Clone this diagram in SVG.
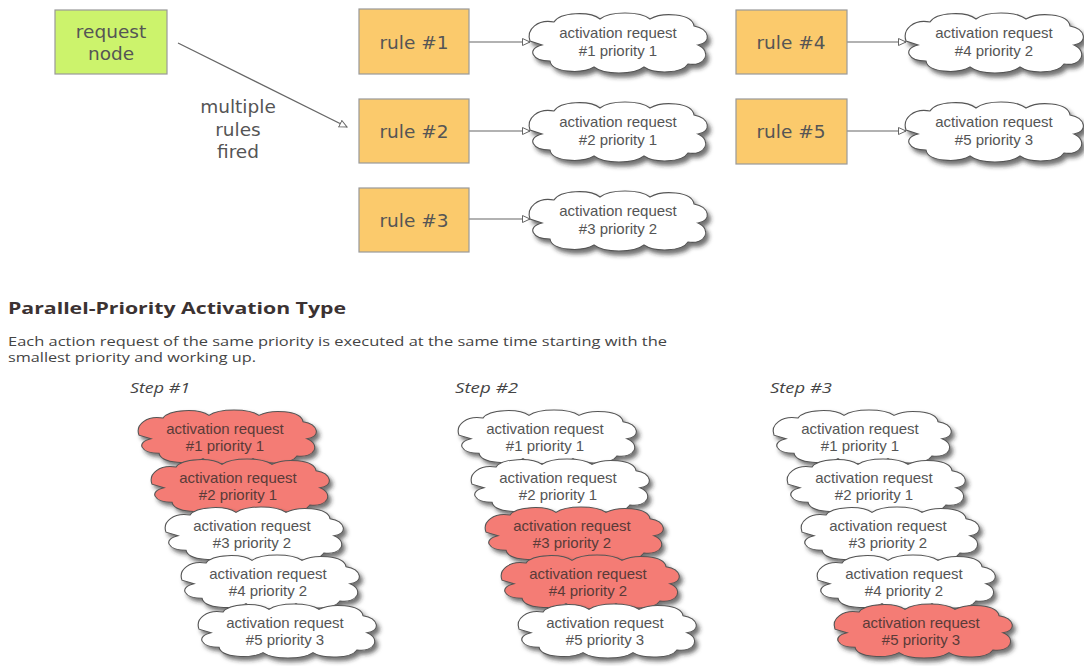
<svg xmlns="http://www.w3.org/2000/svg" xmlns:xlink="http://www.w3.org/1999/xlink" width="1084" height="666" viewBox="0 0 1084 666">
<style>
.box{stroke:#999;stroke-width:1.2}
.req{fill:#CCF36C}
.rule{fill:#FBCA6C}
.lbl{font-family:"DejaVu Sans",Verdana,sans-serif;font-size:18.5px;fill:#555;text-anchor:middle}
.ct{font-family:"Liberation Sans",Arial,sans-serif;font-size:15px;fill:#555;text-anchor:middle}
.red .ct{fill:#5a3b38}
.cw{fill:#fff;stroke:#555;stroke-width:1.1}
.cr{fill:#F47C74;stroke:#555;stroke-width:1.1}
.conn{stroke:#666;stroke-width:1.2;fill:none;marker-end:url(#arr)}
.head{font-family:"Open Sans","DejaVu Sans",sans-serif;font-weight:bold;font-size:16px;fill:#3b3232}
.body{font-family:"Open Sans","DejaVu Sans",sans-serif;font-size:13px;fill:#444}
.step{font-family:"Open Sans","DejaVu Sans",sans-serif;font-style:italic;font-size:14px;fill:#444}
</style>
<defs>
<marker id="arr" markerUnits="userSpaceOnUse" markerWidth="10" markerHeight="10" refX="8" refY="4" orient="auto">
<path d="M0.5,0.5 L8,4 L0.5,7.5 Z" fill="#fff" stroke="#666" stroke-width="1"/>
</marker>
<filter id="sh" x="-20%" y="-30%" width="140%" height="170%">
<feDropShadow dx="3" dy="4" stdDeviation="2.2" flood-color="#222" flood-opacity="0.65"/>
</filter>
<path id="cloud" d="M -88,-2 C -92,-14 -80,-24 -64,-21 C -58,-31 -28,-32 -18,-24 C -8,-32 22,-32 32,-24 C 44,-31 74,-30 76,-17 C 92,-14 94,0 80,2 C 94,8 88,24 70,21 C 64,31 36,31 26,24 C 16,32 -14,32 -24,24 C -36,31 -66,30 -68,18 C -86,18 -92,6 -76,2 L -88,-2 Z"/>
</defs>
<rect width="1084" height="666" fill="#fff"/>

<g id="connectors">
<line class="conn" x1="178" y1="43" x2="347" y2="127"/>
<line class="conn" x1="469" y1="42" x2="530" y2="42"/>
<line class="conn" x1="469" y1="131" x2="530" y2="131"/>
<line class="conn" x1="469" y1="219" x2="530" y2="219"/>
<line class="conn" x1="847" y1="42" x2="906" y2="42"/>
<line class="conn" x1="847" y1="131" x2="906" y2="131"/>
</g>

<g id="request-node">
<rect class="box req" x="55" y="10" width="112" height="64"/>
<text class="lbl" x="111" y="38">request</text>
<text class="lbl" x="111" y="60">node</text>
</g>
<g id="label-fired">
<text class="lbl" x="238" y="113">multiple</text>
<text class="lbl" x="238" y="136">rules</text>
<text class="lbl" x="238" y="158">fired</text>
</g>

<g id="rule1"><rect class="box rule" x="359" y="9" width="110" height="65"/><text class="lbl" x="414" y="49">rule #1</text></g>
<g id="rule2"><rect class="box rule" x="359" y="99" width="110" height="64"/><text class="lbl" x="414" y="138">rule #2</text></g>
<g id="rule3"><rect class="box rule" x="359" y="188" width="110" height="64"/><text class="lbl" x="414" y="227">rule #3</text></g>
<g id="rule4"><rect class="box rule" x="736" y="10" width="111" height="64"/><text class="lbl" x="791" y="49">rule #4</text></g>
<g id="rule5"><rect class="box rule" x="736" y="99" width="111" height="65"/><text class="lbl" x="791" y="138">rule #5</text></g>

<g id="act1"><use href="#cloud" class="cw" filter="url(#sh)" transform="translate(618,43)"/><text class="ct" x="618" y="38">activation request</text><text class="ct" x="618" y="56">#1 priority 1</text></g>
<g id="act2"><use href="#cloud" class="cw" filter="url(#sh)" transform="translate(618,132)"/><text class="ct" x="618" y="127">activation request</text><text class="ct" x="618" y="145">#2 priority 1</text></g>
<g id="act3"><use href="#cloud" class="cw" filter="url(#sh)" transform="translate(618,221)"/><text class="ct" x="618" y="216">activation request</text><text class="ct" x="618" y="234">#3 priority 2</text></g>
<g id="act4"><use href="#cloud" class="cw" filter="url(#sh)" transform="translate(994,43)"/><text class="ct" x="994" y="38">activation request</text><text class="ct" x="994" y="56">#4 priority 2</text></g>
<g id="act5"><use href="#cloud" class="cw" filter="url(#sh)" transform="translate(994,132)"/><text class="ct" x="994" y="127">activation request</text><text class="ct" x="994" y="145">#5 priority 3</text></g>

<g id="heading">
<text class="head" x="8" y="314" textLength="338" lengthAdjust="spacingAndGlyphs">Parallel-Priority Activation Type</text>
<text class="body" x="8" y="346" textLength="659" lengthAdjust="spacingAndGlyphs">Each action request of the same priority is executed at the same time starting with the</text>
<text class="body" x="8" y="362" textLength="248" lengthAdjust="spacingAndGlyphs">smallest priority and working up.</text>
</g>

<g id="step1">
<text class="step" x="130" y="393" textLength="60" lengthAdjust="spacingAndGlyphs">Step #1</text>
<g id="s1c1" class="red"><use href="#cloud" class="cr" filter="url(#sh)" transform="translate(227,437) scale(1,0.9)"/><text class="ct" x="225" y="434">activation request</text><text class="ct" x="225" y="451">#1 priority 1</text></g>
<g id="s1c2" class="red"><use href="#cloud" class="cr" filter="url(#sh)" transform="translate(240,486) scale(1,0.9)"/><text class="ct" x="238" y="483">activation request</text><text class="ct" x="238" y="500">#2 priority 1</text></g>
<g id="s1c3"><use href="#cloud" class="cw" filter="url(#sh)" transform="translate(254,534) scale(1,0.9)"/><text class="ct" x="252" y="531">activation request</text><text class="ct" x="252" y="548">#3 priority 2</text></g>
<g id="s1c4"><use href="#cloud" class="cw" filter="url(#sh)" transform="translate(270,582) scale(1,0.9)"/><text class="ct" x="268" y="579">activation request</text><text class="ct" x="268" y="596">#4 priority 2</text></g>
<g id="s1c5"><use href="#cloud" class="cw" filter="url(#sh)" transform="translate(287,631) scale(1,0.9)"/><text class="ct" x="285" y="628">activation request</text><text class="ct" x="285" y="645">#5 priority 3</text></g>
</g>

<g id="step2">
<text class="step" x="455" y="393" textLength="63" lengthAdjust="spacingAndGlyphs">Step #2</text>
<g id="s2c1"><use href="#cloud" class="cw" filter="url(#sh)" transform="translate(547,437) scale(1,0.9)"/><text class="ct" x="545" y="434">activation request</text><text class="ct" x="545" y="451">#1 priority 1</text></g>
<g id="s2c2"><use href="#cloud" class="cw" filter="url(#sh)" transform="translate(560,486) scale(1,0.9)"/><text class="ct" x="558" y="483">activation request</text><text class="ct" x="558" y="500">#2 priority 1</text></g>
<g id="s2c3" class="red"><use href="#cloud" class="cr" filter="url(#sh)" transform="translate(574,534) scale(1,0.9)"/><text class="ct" x="572" y="531">activation request</text><text class="ct" x="572" y="548">#3 priority 2</text></g>
<g id="s2c4" class="red"><use href="#cloud" class="cr" filter="url(#sh)" transform="translate(590,582) scale(1,0.9)"/><text class="ct" x="588" y="579">activation request</text><text class="ct" x="588" y="596">#4 priority 2</text></g>
<g id="s2c5"><use href="#cloud" class="cw" filter="url(#sh)" transform="translate(607,631) scale(1,0.9)"/><text class="ct" x="605" y="628">activation request</text><text class="ct" x="605" y="645">#5 priority 3</text></g>
</g>

<g id="step3">
<text class="step" x="770" y="393" textLength="62" lengthAdjust="spacingAndGlyphs">Step #3</text>
<g id="s3c1"><use href="#cloud" class="cw" filter="url(#sh)" transform="translate(862,437) scale(1,0.9)"/><text class="ct" x="860" y="434">activation request</text><text class="ct" x="860" y="451">#1 priority 1</text></g>
<g id="s3c2"><use href="#cloud" class="cw" filter="url(#sh)" transform="translate(876,486) scale(1,0.9)"/><text class="ct" x="874" y="483">activation request</text><text class="ct" x="874" y="500">#2 priority 1</text></g>
<g id="s3c3"><use href="#cloud" class="cw" filter="url(#sh)" transform="translate(890,534) scale(1,0.9)"/><text class="ct" x="888" y="531">activation request</text><text class="ct" x="888" y="548">#3 priority 2</text></g>
<g id="s3c4"><use href="#cloud" class="cw" filter="url(#sh)" transform="translate(906,582) scale(1,0.9)"/><text class="ct" x="904" y="579">activation request</text><text class="ct" x="904" y="596">#4 priority 2</text></g>
<g id="s3c5" class="red"><use href="#cloud" class="cr" filter="url(#sh)" transform="translate(923,631) scale(1,0.9)"/><text class="ct" x="921" y="628">activation request</text><text class="ct" x="921" y="645">#5 priority 3</text></g>
</g>
</svg>
